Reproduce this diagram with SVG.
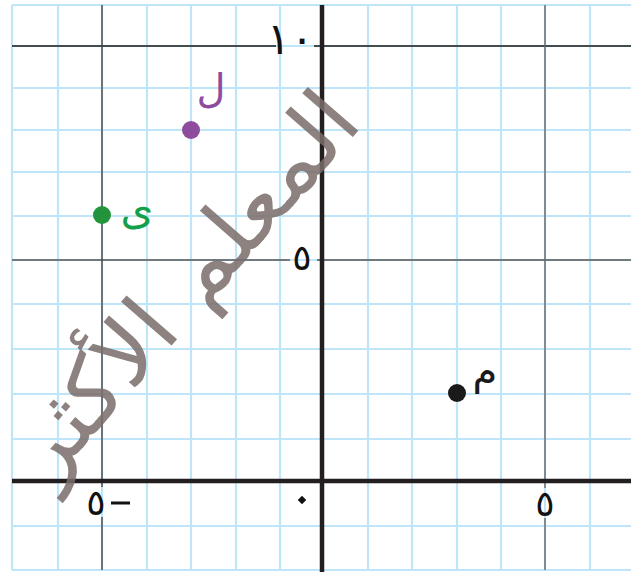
<svg xmlns="http://www.w3.org/2000/svg" width="631" height="572" viewBox="0 0 631 572">
<style>
.g{stroke:#bfe6f8;stroke-width:2.2;fill:none}
.d{stroke:#3a3a3a;stroke-width:1.4;fill:none}
.ax{stroke:#231f20;stroke-width:4.5;fill:none}
.t{font-family:"DejaVu Sans","Noto Sans",sans-serif;fill:#111}
.lbl{font-family:"DejaVu Sans","Noto Sans",sans-serif}
</style>
<rect width="631" height="572" fill="#ffffff"/>
<g id="grid">
<path class="g" d="M12 5V570M58 5V570M102 5V570M147 5V570M191 5V570M236 5V570M280 5V570M368 5V570M412 5V570M457 5V570M501 5V570M545 5V570M590 5V570"/>
<path class="g" d="M12 5H631M12 46H631M12 88H631M12 130H631M12 172H631M12 216H631M12 260H631M12 304H631M12 349H631M12 394H631M12 439H631M12 526H631M12 570H631"/>
</g>
<g id="axes">
<path class="d" d="M12 46H276M314 46H631" style="stroke:#1a1a1a"/>
<path class="d" d="M12 260H290M317 260H631" style="stroke:#555"/>
<path class="d" d="M102 5V487M102 517V570" style="stroke:#444"/>
<path class="d" d="M545 5V488M545 518V570" style="stroke:#666"/>
<path class="ax" d="M322 5V572"/>
<path class="ax" d="M12 481H631"/>
</g>
<g id="ticks">
<text class="t" x="314" y="54" font-size="44" text-anchor="end">١٠</text>
<text class="t" x="302" y="270" font-size="36" text-anchor="middle">٥</text>
<text class="t" x="96" y="515" font-size="36" text-anchor="middle">٥</text>
<rect x="111" y="501.5" width="19" height="3" fill="#111"/>
<rect x="299" y="497" width="6" height="6" fill="#111" transform="rotate(45 302 500)"/>
<text class="t" x="545" y="516" font-size="36" text-anchor="middle">٥</text>
</g>
<g id="watermark" opacity="0.85">
<text class="lbl" transform="translate(196 296) rotate(-49)" x="0" y="14" font-size="88" fill="#7a6d6b" text-anchor="middle" textLength="480" lengthAdjust="spacingAndGlyphs">المعلم الأكثر</text>
</g>
<g id="point-L">
<circle cx="191" cy="130" r="9" fill="#8e4c9e"/>
<text class="lbl" x="211" y="102" font-size="40" fill="#8e4c9e" text-anchor="middle">ل</text>
</g>
<g id="point-Y">
<circle cx="102" cy="215" r="9" fill="#23943b"/>
<text class="lbl" x="137" y="224" font-size="42" fill="#12a04a" text-anchor="middle">ى</text>
</g>
<g id="point-M">
<circle cx="457" cy="393" r="9" fill="#1a1a1a"/>
<text class="lbl" x="485" y="384" font-size="40" fill="#1a1a1a" text-anchor="middle">م</text>
</g>
</svg>
